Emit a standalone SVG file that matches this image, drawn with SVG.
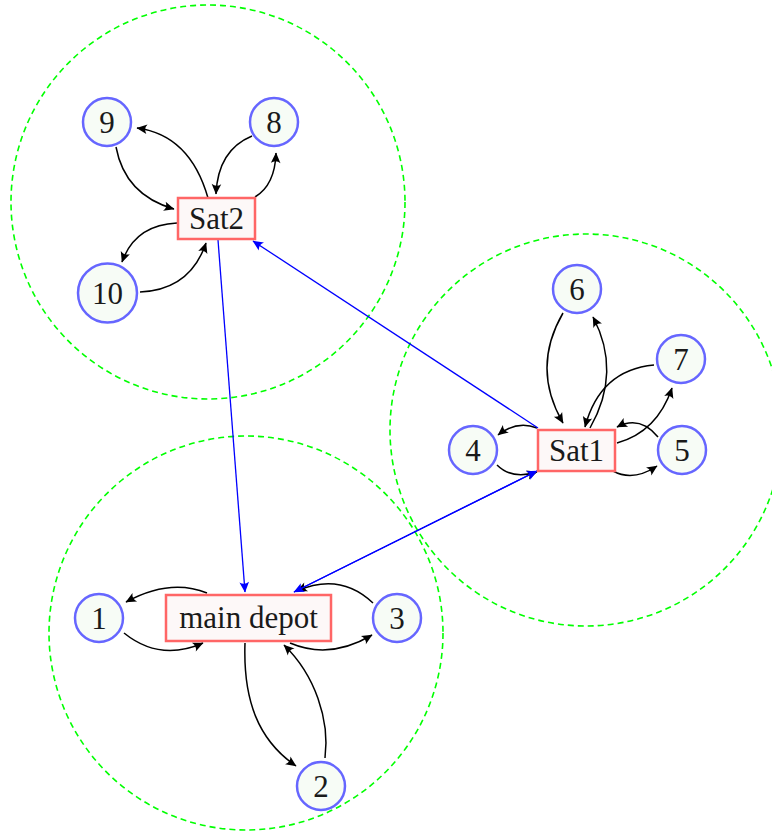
<svg xmlns="http://www.w3.org/2000/svg" width="772" height="833" viewBox="0 0 772 833">
  <style>
    .zone { fill: none; stroke: #00ff00; stroke-width: 1.6; stroke-dasharray: 6 4; }
    .cust circle { fill: #f7fcf6; stroke: #6666ff; stroke-width: 2.5; }
    .dep rect { fill: #fdf8f8; stroke: #ff6666; stroke-width: 2.5; }
    text { font-family: "Liberation Serif", "DejaVu Serif", serif; font-size: 31px; fill: #1a1a1a; text-anchor: middle; dominant-baseline: central; }
    .e { fill: none; stroke: #000; stroke-width: 1.5; marker-end: url(#ah); }
    .b { fill: none; stroke: #0000ff; stroke-width: 1.3; marker-end: url(#ahb); }
  </style>
  <defs>
    <marker id="ah" markerUnits="userSpaceOnUse" viewBox="-11 -6 12 12" refX="0" refY="0" markerWidth="12" markerHeight="12" orient="auto">
      <path d="M0.5,0 L-10,-4.8 Q-6.5,0 -10,4.8 Z" fill="#000"/>
    </marker>
    <marker id="ahb" markerUnits="userSpaceOnUse" viewBox="-11 -6 12 12" refX="0" refY="0" markerWidth="12" markerHeight="12" orient="auto">
      <path d="M0.5,0 L-10,-4.8 Q-6.5,0 -10,4.8 Z" fill="#0000ff"/>
    </marker>
  </defs>

  <!-- service zones -->
  <g id="zones">
    <circle class="zone" cx="208" cy="202" r="197"/>
    <circle class="zone" cx="586" cy="430" r="196"/>
    <circle class="zone" cx="246" cy="633" r="197"/>
  </g>

  <!-- connectors -->
  <g id="edges">
    <!-- Sat2 cluster -->
    <path class="e" d="M208,198 Q190,135 137,128"/>
    <path class="e" d="M116,147 Q125,195 174,209"/>
    <path class="e" d="M252,136 Q218,150 216,194"/>
    <path class="e" d="M255,197 Q275,185 276,153"/>
    <path class="e" d="M177,223 Q135,225 122,262"/>
    <path class="e" d="M140,292 Q190,290 206,243"/>
    <!-- Sat1 cluster -->
    <path class="e" d="M563,313 Q531,368 563,423"/>
    <path class="e" d="M590,428 Q622,372 593,317"/>
    <path class="e" d="M654,365 Q600,370 585,427"/>
    <path class="e" d="M617,443 Q657,432 672,388"/>
    <path class="e" d="M658,437 Q640,415 617,427"/>
    <path class="e" d="M613,471 Q633,482 657,466"/>
    <path class="e" d="M537,428 Q517,420 498,435"/>
    <path class="e" d="M497,465 Q512,480 537,472"/>
    <!-- depot cluster -->
    <path class="e" d="M207,593 Q170,578 126,602"/>
    <path class="e" d="M124,633 Q160,662 203,643"/>
    <path class="e" d="M373,603 Q340,572 297,591"/>
    <path class="e" d="M290,643 Q330,660 372,635"/>
    <path class="e" d="M245,643 C243,700 258,740 296,766"/>
    <path class="e" d="M325,758 C330,720 315,675 284,645"/>
    <!-- links between facilities -->
    <path class="b" d="M218,240 L245,592"/>
    <path class="b" d="M538,428 L253,241"/>
    <path class="b" d="M294,592 L537,471"/>
    <path class="b" d="M537,471 L294,592"/>
  </g>

  <!-- facilities -->
  <g id="depot" class="dep"><rect x="166" y="595" width="165" height="46"/><text x="248.5" y="617.5">main depot</text></g>
  <g id="sat1" class="dep"><rect x="538" y="430" width="77" height="41"/><text x="576.5" y="450.5">Sat1</text></g>
  <g id="sat2" class="dep"><rect x="178" y="198" width="77" height="41"/><text x="216.5" y="218.5">Sat2</text></g>

  <!-- customers -->
  <g id="n1" class="cust"><circle cx="99" cy="618" r="24"/><text x="99" y="618">1</text></g>
  <g id="n2" class="cust"><circle cx="321" cy="786" r="24"/><text x="321" y="786">2</text></g>
  <g id="n3" class="cust"><circle cx="397" cy="618" r="24"/><text x="397" y="618">3</text></g>
  <g id="n4" class="cust"><circle cx="473" cy="450" r="24"/><text x="473" y="450">4</text></g>
  <g id="n5" class="cust"><circle cx="682" cy="450" r="24"/><text x="682" y="450">5</text></g>
  <g id="n6" class="cust"><circle cx="577" cy="289" r="24"/><text x="577" y="289">6</text></g>
  <g id="n7" class="cust"><circle cx="681" cy="359" r="24"/><text x="681" y="359">7</text></g>
  <g id="n8" class="cust"><circle cx="274" cy="122" r="24"/><text x="274" y="122">8</text></g>
  <g id="n9" class="cust"><circle cx="107" cy="122" r="24"/><text x="107" y="122">9</text></g>
  <g id="n10" class="cust"><circle cx="107.5" cy="293" r="29.5"/><text x="107.5" y="293">10</text></g>
</svg>
